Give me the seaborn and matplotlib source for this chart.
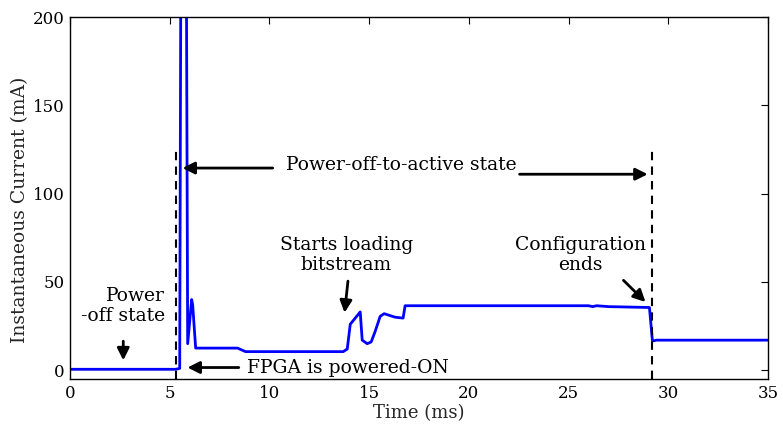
import matplotlib
matplotlib.use("Agg")
import matplotlib.pyplot as plt
import seaborn as sns
import pandas as pd

# ---- data ----
time_ms = [0, 5.3, 5.5, 5.6, 5.78, 5.9, 6.1, 6.15, 6.3, 8.4, 8.8, 13.7, 13.9,
           14.05, 14.55, 14.65, 14.9, 15.1, 15.3, 15.55, 15.75, 16.3, 16.7, 16.8,
           26.0, 26.2, 26.4, 27.0, 29.05, 29.2, 29.4, 35]
current_ma = [0.5, 0.5, 1, 400, 400, 15, 40, 37, 12.5, 12.5, 10.5, 10.5, 12,
              26, 33, 17, 15, 16, 22, 30.5, 32, 30, 29.5, 36.5,
              36.5, 36, 36.5, 36, 35.5, 16.5, 17, 17]
x_ticks = [0, 5, 10, 15, 20, 25, 30, 35]
y_ticks = [0, 50, 100, 150, 200]
marker_times = [5.3, 29.2]

df = pd.DataFrame({"Time (ms)": time_ms, "Current": current_ma})

sns.set_style("white")
plt.rcParams["font.family"] = ["DejaVu Serif"]

fig = plt.figure(figsize=(7.83, 4.28), dpi=100)
ax = fig.add_axes([0.0894, 0.1145, 0.8916, 0.8455])

sns.lineplot(data=df, x="Time (ms)", y="Current", ax=ax, color="#0000ff",
             linewidth=2.0, estimator=None, sort=False)

for xm in marker_times:
    ax.plot([xm, xm], [-5, 125.5], color="black", linestyle=(0, (4, 3)), linewidth=1.5)

ax.set_xlim(0, 35)
ax.set_ylim(-5, 200)
ax.set_xticks(x_ticks)
ax.set_yticks(y_ticks)
ax.tick_params(direction="in", length=5, width=0.8, top=True, right=True,
               labelsize=12, colors="black", pad=4)
for s in ax.spines.values():
    s.set_color("black")
    s.set_linewidth(1.0)
ax.set_xlabel("Time (ms)", fontsize=13, labelpad=2)
ax.set_ylabel("Instantaneous Current (mA)", fontsize=13.5)
ax.yaxis.set_label_coords(-0.058, 0.467)

afont = dict(family="DejaVu Serif", fontsize=13.5, color="black")
ap = dict(arrowstyle="-|>", color="black", lw=2, mutation_scale=18)

ax.text(16.6, 116.5, "Power-off-to-active state", ha="center", va="center", **afont)
ax.annotate("", xy=(5.5, 114.5), xytext=(10.3, 114.5), arrowprops=ap)
ax.annotate("", xy=(29.1, 111), xytext=(22.4, 111), arrowprops=ap)

ax.text(2.67, 36.5, "Power\n-off state", ha="center", va="center",
        multialignment="right", linespacing=1.15, **afont)
ax.annotate("", xy=(2.67, 4), xytext=(2.67, 18), arrowprops=ap)

ax.text(8.85, 1.5, "FPGA is powered-ON", ha="left", va="center", **afont)
ax.annotate("", xy=(5.75, 1.5), xytext=(8.6, 1.5), arrowprops=ap)

ax.text(13.85, 65, "Starts loading\nbitstream", ha="center", va="center", linespacing=1.15, **afont)
ax.annotate("", xy=(13.75, 31), xytext=(13.95, 52), arrowprops=ap)

ax.text(25.6, 65, "Configuration\nends", ha="center", va="center", linespacing=1.15, **afont)
ax.annotate("", xy=(28.95, 37.5), xytext=(27.65, 52), arrowprops=ap)

fig.savefig("out.png", dpi=100)
